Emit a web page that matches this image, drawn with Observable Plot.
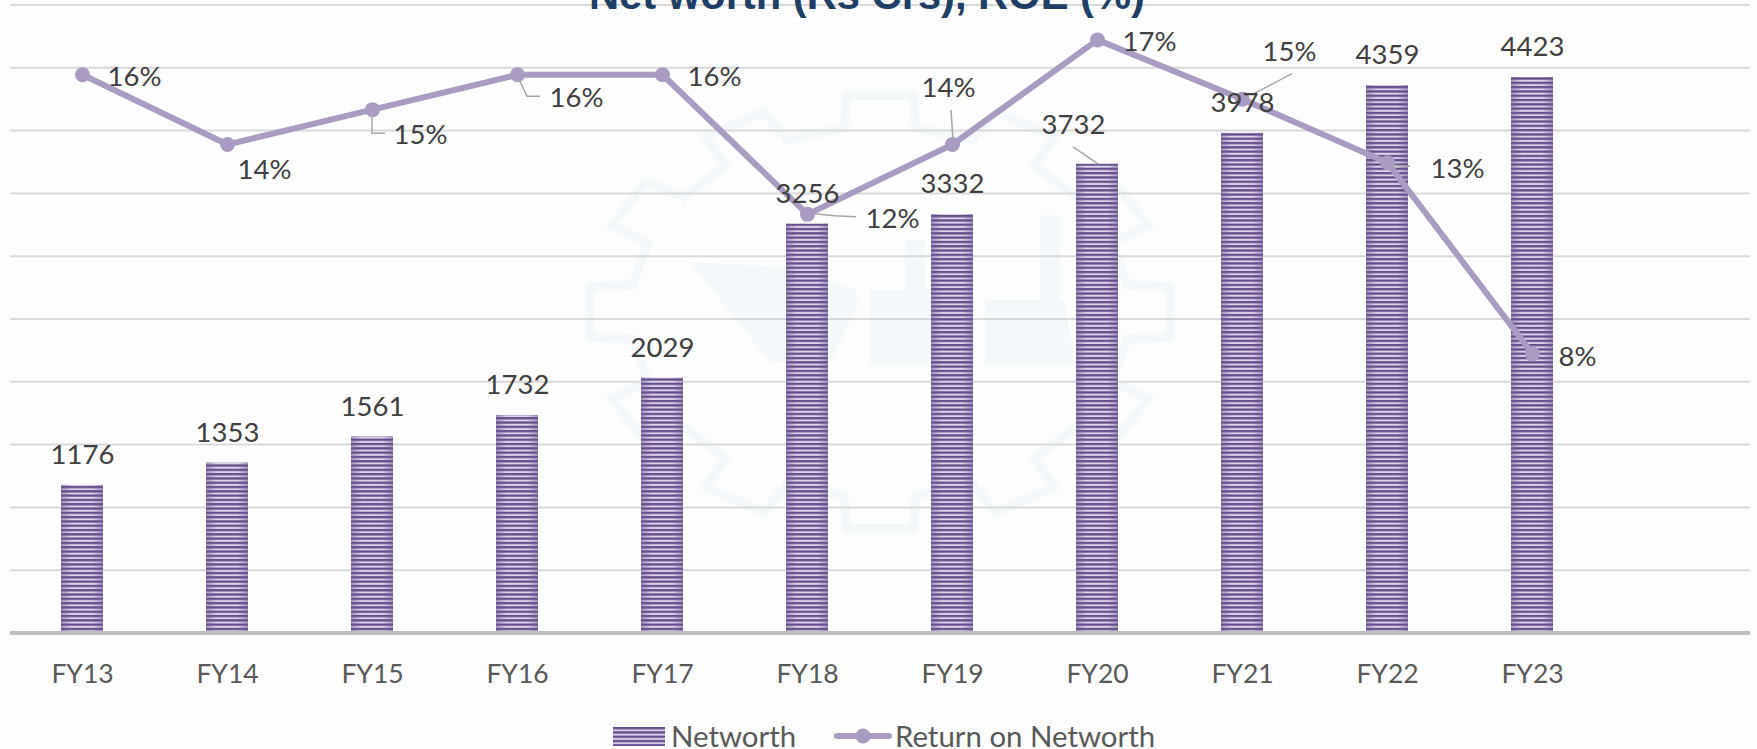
<!DOCTYPE html>
<html>
<head>
<meta charset="utf-8">
<script src="https://cdn.jsdelivr.net/npm/d3@7"></script>
<script src="https://cdn.jsdelivr.net/npm/@observablehq/plot@0.6"></script>
<style>
  html, body { margin: 0; padding: 0; background: #fdfdfd; overflow: hidden; }
  #page { position: relative; width: 1757px; height: 749px; overflow: hidden; font-family: Lato, sans-serif; }
  #title { position: absolute; left: 589px; top: -29px; margin: 0; z-index: 2; line-height: 50px;
           font: bold 41.7px "Liberation Sans", sans-serif; color: #1f3f66; white-space: nowrap; }
  #chart { position: absolute; left: 0; top: 0; }
  .lg { position: absolute; color: #595959; font-size: 29.4px; line-height: 26px; top: 723px; white-space: nowrap; }
  .sw { position: absolute; }
</style>
</head>
<body>
<div id="page">
  <div id="chart"></div>
  <h1 id="title">Net worth (Rs Crs), ROE (%)</h1>
  <svg class="sw" style="left:613px;top:727px" width="52" height="19"><defs><pattern id="lgStripe" width="4" height="4.3" patternUnits="userSpaceOnUse"><rect width="4" height="4.3" fill="#d6cde2"/><rect width="4" height="2.3" fill="#644e8e"/></pattern></defs><rect width="52" height="19" fill="url(#lgStripe)"/></svg>
  <div class="lg" style="left:671px">Networth</div>
  <svg class="sw" style="left:834px;top:725px" width="58" height="22"><line x1="3" x2="55" y1="11" y2="11" stroke="#a99bc1" stroke-width="6" stroke-linecap="round"/><circle cx="29" cy="11" r="7.5" fill="#a99bc1"/></svg>
  <div class="lg" style="left:895px">Return on Networth</div>
</div>
<script>
const years = ["FY13","FY14","FY15","FY16","FY17","FY18","FY19","FY20","FY21","FY22","FY23"];
const networth = [1176,1353,1561,1732,2029,3256,3332,3732,3978,4359,4423];
const roe = [16,14,15,16,16,12,14,17,15.3,13.48,8];
const emptySlot = " ";
const gridValues = [500,1000,1500,2000,2500,3000,3500,4000,4500,5000];

const rows = years.map((fy, i) => ({fy, networth: networth[i], roe: roe[i]}));
const roeToY = d3.scaleLinear([0, 18], [0, 5000]);

const font = "Lato, sans-serif";
const labelSize = 27.5;
const purple = "#a99bc1";

// label placement, in pixels from the datum
const roeNudge = {FY13:[52,2],FY14:[37,26],FY15:[48,26],FY16:[59,23],FY17:[52,2],FY18:[85,5],FY19:[-4,-56],FY20:[52,2],FY21:[47,-47],FY22:[70,6],FY23:[45,3]};
const worthNudge = {FY20:[-24,-39]};
const roeLeaders = {
  FY15:[[0,6],[0,24],[13,24]],
  FY16:[[2,5],[10,22],[23,22]],
  FY18:[[7,0],[28,2],[49,3]],
  FY19:[[-1,-34],[1,-4]],
  FY21:[[50,-25],[10,-4]],
  FY22:[[3,3],[23,4]]
};
const worthLeaders = {FY20:[[-24,-17],[1,0]]};

const svgEl = (name) => document.createElementNS("http://www.w3.org/2000/svg", name);
const cx = (scales, v) => { const x = scales.x; const b = typeof x.bandwidth === "function" ? x.bandwidth() : (x.bandwidth || 0); return x(v) + b / 2; };

function defsMark() {
  const g = svgEl("defs");
  g.innerHTML = `
    <pattern id="stripe" width="4" height="4.3" patternUnits="userSpaceOnUse">
      <rect width="4" height="4.3" fill="#dcd4e7"/><rect width="4" height="2.3" fill="#644e8e"/>
    </pattern>
    <linearGradient id="edge" x1="0" x2="1" y1="0" y2="0">
      <stop offset="0" stop-color="#6b5693" stop-opacity=".5"/>
      <stop offset=".25" stop-color="#6b5693" stop-opacity="0"/>
      <stop offset=".75" stop-color="#6b5693" stop-opacity="0"/>
      <stop offset="1" stop-color="#6b5693" stop-opacity=".5"/>
    </linearGradient>`;
  return g;
}

// faint company-logo watermark behind the chart
function watermarkMark() {
  const g = svgEl("g");
  const teeth = 12, X = 880, Y = 312, RX = 292, RY = 218, rx = 250, ry = 186;
  const pts = [];
  for (let i = 0; i < teeth; i++) {
    const a = (i / teeth) * 2 * Math.PI - Math.PI / 2, w = Math.PI / teeth * 0.55;
    [[a - w, rx, ry], [a - w * 0.8, RX, RY], [a + w * 0.8, RX, RY], [a + w, rx, ry]]
      .forEach(([t, a1, b1]) => pts.push([X + a1 * Math.cos(t), Y + b1 * Math.sin(t)]));
  }
  const gear = svgEl("path");
  gear.setAttribute("d", "M" + pts.map(p => p.join(",")).join("L") + "Z");
  gear.setAttribute("fill", "none");
  gear.setAttribute("stroke", "#f3f8fb");
  gear.setAttribute("stroke-width", "9");
  g.appendChild(gear);
  const shapes = [
    "M690,262 L800,268 L855,290 L858,305 L830,362 L770,362 Z",
    "M870,290 L960,290 L975,300 L975,365 L870,365 Z",
    "M985,300 L1065,300 L1075,365 L985,365 Z",
    "M905,240 L925,240 L925,290 L905,290 Z",
    "M1040,215 L1060,215 L1060,300 L1040,300 Z"
  ];
  for (const d of shapes) {
    const p = svgEl("path");
    p.setAttribute("d", d);
    p.setAttribute("fill", "#f3f8fb");
    g.appendChild(p);
  }
  return g;
}

function leaderMark(table, yOf) {
  return (index, scales) => {
    const g = svgEl("g");
    for (const r of rows) {
      const pts = table[r.fy];
      if (!pts) continue;
      const x0 = cx(scales, r.fy), y0 = scales.y(yOf(r));
      const p = svgEl("path");
      p.setAttribute("d", "M" + pts.map(([a, b]) => `${x0 + a},${y0 + b}`).join("L"));
      p.setAttribute("fill", "none");
      p.setAttribute("stroke", "#a6a6a6");
      p.setAttribute("stroke-width", "1.5");
      g.appendChild(p);
    }
    return g;
  };
}

const worthLabels = rows.map(r => {
  const [dx, dy] = worthNudge[r.fy] || [0, -30];
  return Plot.text([r], {x: "fy", y: "networth", text: d => String(d.networth), dx, dy, fontSize: labelSize, fontFamily: font, fill: "#404040"});
});
const roeLabels = rows.map(r => {
  const [dx, dy] = roeNudge[r.fy];
  return Plot.text([r], {x: "fy", y: d => roeToY(d.roe), text: d => Math.round(d.roe) + "%", dx, dy, fontSize: labelSize, fontFamily: font, fill: "#404040"});
});

const chart = Plot.plot({
  width: 1757,
  height: 705,
  marginLeft: 10,
  marginRight: 7,
  marginTop: 0,
  marginBottom: 72,
  style: {background: "transparent", overflow: "visible"},
  x: {domain: [...years, emptySlot], paddingInner: 0.71, paddingOuter: 0.355, align: 0.5, label: null},
  y: {domain: [0, 5000], range: [632.5, 4.5], axis: null},
  marks: [
    defsMark,
    watermarkMark,
    Plot.ruleY(gridValues, {stroke: "#d9d9d9", strokeWidth: 2}),
    Plot.barY(rows, {x: "fy", y: "networth", fill: "url(#stripe)"}),
    Plot.barY(rows, {x: "fy", y: "networth", fill: "url(#edge)"}),
    Plot.ruleY([0], {stroke: "#bfbfbf", strokeWidth: 4}),
    Plot.axisX({tickSize: 0, tickPadding: 31, fontSize: 26.5, fontFamily: font, fill: "#595959", label: null}),
    Plot.line(rows, {x: "fy", y: d => roeToY(d.roe), stroke: purple, strokeWidth: 6, strokeLinejoin: "round"}),
    Plot.dot(rows, {x: "fy", y: d => roeToY(d.roe), r: 7.5, fill: purple}),
    leaderMark(roeLeaders, d => roeToY(d.roe)),
    leaderMark(worthLeaders, d => d.networth),
    ...worthLabels,
    ...roeLabels
  ]
});
document.getElementById("chart").appendChild(chart);
</script>
</body>
</html>
